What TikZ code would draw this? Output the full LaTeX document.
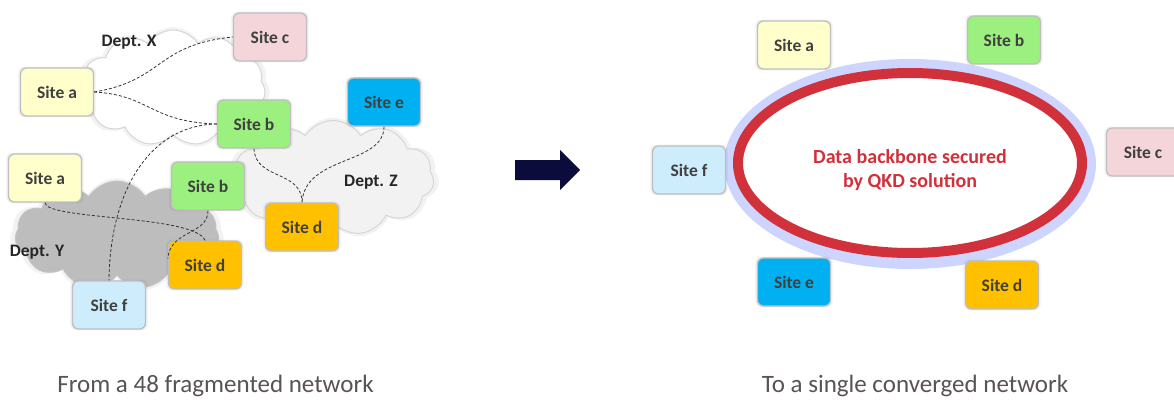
\documentclass[tikz,border=0pt]{standalone}
\usepackage{fontspec}
\setmainfont{Carlito}
\usetikzlibrary{shapes.symbols,shadows,calc}
\definecolor{siteA}{HTML}{FFFFCC}
\definecolor{siteB}{HTML}{9CF07F}
\definecolor{siteC}{HTML}{F4D6DA}
\definecolor{siteD}{HTML}{FFC000}
\definecolor{siteE}{HTML}{00B0F0}
\definecolor{siteF}{HTML}{CDEDFD}
\definecolor{boxline}{HTML}{BFBFBF}
\definecolor{labeltext}{HTML}{404040}
\definecolor{deptgray}{HTML}{BDBDBD}
\definecolor{deptlight}{HTML}{F2F2F2}
\definecolor{cloudline}{HTML}{D6D6D6}
\definecolor{navy}{HTML}{0B0C3C}
\definecolor{qkdred}{HTML}{D0313B}
\definecolor{lavender}{HTML}{CDD5FF}
\definecolor{captiongray}{HTML}{5A5353}
\tikzset{
  sitebox/.style={draw=boxline, line width=1.3pt, rounded corners=6pt,
    minimum width=73pt, minimum height=48pt, inner sep=0pt,
    font=\fontsize{17.5}{20}\selectfont\bfseries, text=labeltext,
    general shadow={shadow scale=1.06, fill=black, opacity=0.06}},
  deptcloud/.style={cloud, cloud puffs=11, cloud puff arc=115, aspect=1.6,
    draw=cloudline, line width=1pt, inner sep=0pt,
    general shadow={shadow scale=1.05, fill=black, opacity=0.05}},
  deptlabel/.style={font=\fontsize{17.5}{20}\selectfont\bfseries, text=black!85, inner sep=0pt},
  link/.style={draw=black!80, line width=0.8pt, dash pattern=on 3pt off 2pt},
  caption/.style={font=\fontsize{25}{28}\selectfont, text=captiongray, inner sep=0pt, anchor=base}
}
\begin{document}
\begin{tikzpicture}[x=1pt,y=-1pt]
\useasboundingbox (0,0) rectangle (1174,401);
\fill[white] (0,0) rectangle (1174,401);

% ---------- left panel: clouds ----------
\node[deptcloud, fill=white, minimum width=185pt, minimum height=116pt] (cx) at (173,88) {};
\node[deptcloud, fill=deptlight, minimum width=202pt, minimum height=115pt] (cz) at (333,178) {};
\node[deptcloud, fill=deptgray, draw=deptgray!90, minimum width=204pt, minimum height=108pt] (cy) at (117,235) {};

\node[deptlabel] (lx) at (129,42) {Dept. X};
\node[deptlabel] (ly) at (37,252) {Dept. Y};
\node[deptlabel] (lz) at (371,182) {Dept. Z};

% ---------- left panel: sites ----------
\node[sitebox, fill=siteC] (lc) at (270,37) {Site c};
\node[sitebox, fill=siteA] (la1) at (57,92) {Site a};
\node[sitebox, fill=siteB] (lb1) at (254,124) {Site b};
\node[sitebox, fill=siteE] (le) at (384,102) {Site e};
\node[sitebox, fill=siteA] (la2) at (45,178) {Site a};
\node[sitebox, fill=siteB] (lb2) at (208,186) {Site b};
\node[sitebox, fill=siteD] (ld1) at (302,227) {Site d};
\node[sitebox, fill=siteD] (ld2) at (205,265) {Site d};
\node[sitebox, fill=siteF] (lf) at (109,305) {Site f};

% ---------- left panel: links ----------
\draw[link] (la1.east) .. controls (165,80) and (155,45) .. (lc.west);
\draw[link] (la1.east) .. controls (150,95) and (150,122) .. (lb1.west);
\draw[link] (lb1.west) .. controls (150,125) and (110,190) .. (lf.north);
\draw[link] (lb1.south) .. controls (255,180) and (302,170) .. (ld1.north);
\draw[link] (le.south) .. controls (384,165) and (305,155) .. (ld1.north);
\draw[link] (la2.south) .. controls (45,220) and (195,215) .. (ld2.north);
\draw[link] (lb2.south) .. controls (208,235) and (170,230) .. (ld2.170);

% ---------- arrow ----------
\coordinate (arr) at (547.5,170);
\fill[navy] ($(arr)+(-32.5,-10)$) -- ($(arr)+(12.5,-10)$) -- ($(arr)+(12.5,-20)$)
  -- ($(arr)+(32.5,0)$) -- ($(arr)+(12.5,20)$) -- ($(arr)+(12.5,10)$)
  -- ($(arr)+(-32.5,10)$) -- cycle;

% ---------- right panel ----------
\fill[lavender] (910,164) ellipse [x radius=186, y radius=105];
\draw[qkdred, line width=10pt, fill=white] (910,163) ellipse [x radius=172, y radius=90];
\node[font=\fontsize{20}{24}\selectfont\bfseries, text=qkdred, align=center, inner sep=0pt]
  (qkd) at (910,170) {Data backbone secured\\by QKD solution};

\node[sitebox, fill=siteA] (ra) at (794,45) {Site a};
\node[sitebox, fill=siteB] (rb) at (1004,40) {Site b};
\node[sitebox, fill=siteC] (rc) at (1143,152) {Site c};
\node[sitebox, fill=siteF] (rf) at (689,170) {Site f};
\node[sitebox, fill=siteE] (re) at (794,282) {Site e};
\node[sitebox, fill=siteD] (rd) at (1002,285) {Site d};

% ---------- captions ----------
\node[caption] (capl) at (215.5,392) {From a 48 fragmented network};
\node[caption] (capr) at (915,392) {To a single converged network};
\end{tikzpicture}
\end{document}
